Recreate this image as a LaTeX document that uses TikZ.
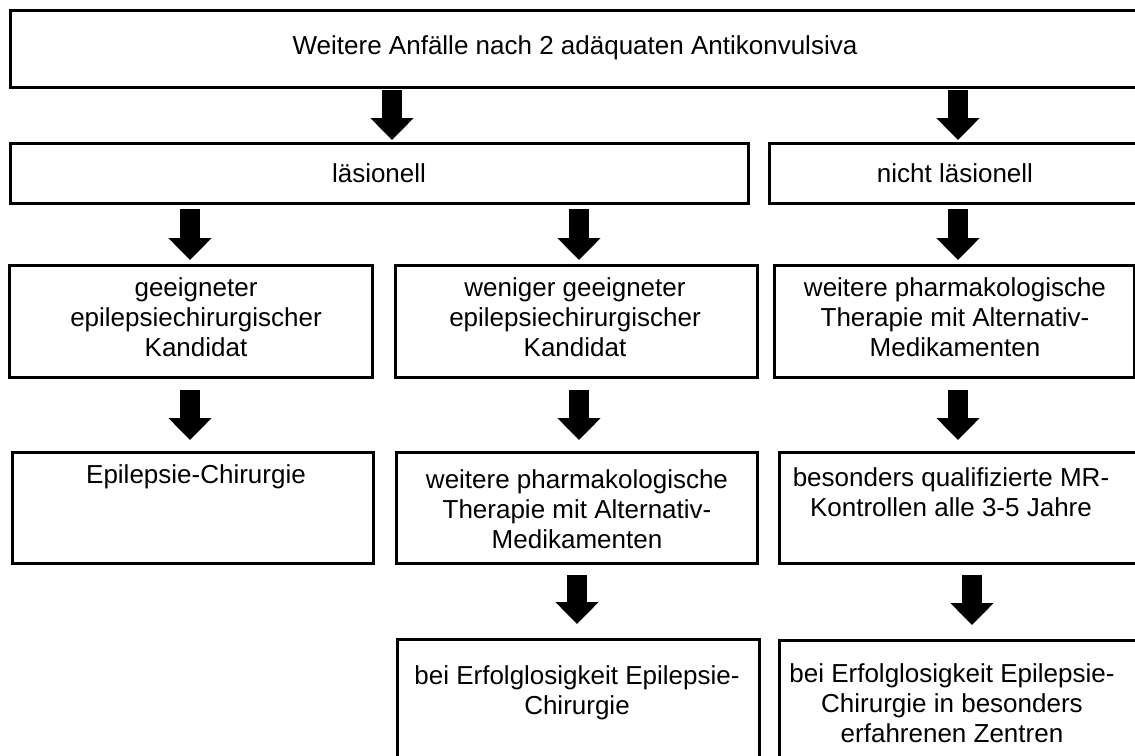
\documentclass[tikz,border=0pt]{standalone}
\usepackage{fontspec}
\setmainfont{Liberation Sans}
\usetikzlibrary{arrows.meta}
\tikzset{
  box/.style={draw=black, line width=3pt, fill=white, inner sep=0pt, outer sep=0pt},
  txt/.style={align=center, inner sep=0pt, font=\fontsize{26}{30}\selectfont},
  bigarrow/.style={draw=black, line width=20pt, -{Triangle[width=42pt,length=22pt]}}
}
\begin{document}
\begin{tikzpicture}[x=1pt,y=-1pt]
\useasboundingbox (0,0) rectangle (1135,755);
\clip (0,0) rectangle (1135,755);
\fill[white] (0,0) rectangle (1135,755);
% boxes
\node[box, minimum width=1135pt, minimum height=77pt] (top) at (577.5,48.5) {};
\node[box, minimum width=738pt, minimum height=60pt] (les) at (379,173) {};
\node[box, minimum width=376pt, minimum height=60pt] (nles) at (957,173) {};
\node[box, minimum width=363pt, minimum height=112pt] (r3a) at (190.5,321) {};
\node[box, minimum width=362pt, minimum height=112pt] (r3b) at (576,321) {};
\node[box, minimum width=360pt, minimum height=112pt] (r3c) at (954,321) {};
\node[box, minimum width=361pt, minimum height=111pt] (r4a) at (192.5,507.5) {};
\node[box, minimum width=361pt, minimum height=111pt] (r4b) at (576.5,507.5) {};
\node[box, minimum width=366pt, minimum height=111pt] (r4c) at (962,507.5) {};
\node[box, minimum width=362pt, minimum height=131pt] (r5b) at (578,704.5) {};
\node[box, minimum width=366pt, minimum height=130pt] (r5c) at (962,705) {};
% texts
\node[txt] (top-t) at (575,48) {Weitere Anfälle nach 2 adäquaten Antikonvulsiva};
\node[txt] (les-t) at (379,173) {läsionell};
\node[txt] (nles-t) at (955,173) {nicht läsionell};
\node[txt] (r3a-t) at (196,317) {geeigneter\\epilepsiechirurgischer\\Kandidat};
\node[txt] (r3b-t) at (575,317) {weniger geeigneter\\epilepsiechirurgischer\\Kandidat};
\node[txt] (r3c-t) at (955,317) {weitere pharmakologische\\Therapie mit Alternativ-\\Medikamenten};
\node[txt] (r4a-t) at (196,477) {Epilepsie-Chirurgie};
\node[txt] (r4b-t) at (577,509) {weitere pharmakologische\\Therapie mit Alternativ-\\Medikamenten};
\node[txt] (r4c-t) at (951,492) {besonders qualifizierte MR-\\Kontrollen alle 3-5 Jahre};
\node[txt] (r5b-t) at (577,693) {bei Erfolglosigkeit Epilepsie-\\Chirurgie};
\node[txt] (r5c-t) at (952,703) {bei Erfolglosigkeit Epilepsie-\\Chirurgie in besonders\\erfahrenen Zentren};
% arrow columns
\coordinate (ca1) at (392,0);
\coordinate (ca2) at (958,0);
\coordinate (cb1) at (190,0);
\coordinate (cb2) at (579,0);
\coordinate (cb3) at (958,0);
\coordinate (cd2) at (577,0);
\coordinate (cd3) at (972,0);
% arrows
\draw[bigarrow, shorten <=3pt, shorten >=3pt] (top.south -| ca1) -- (les.north -| ca1);
\draw[bigarrow, shorten <=3pt, shorten >=3pt] (top.south -| ca2) -- (nles.north -| ca2);
\draw[bigarrow, shorten <=6pt, shorten >=5pt] (les.south -| cb1) -- (r3a.north -| cb1);
\draw[bigarrow, shorten <=6pt, shorten >=5pt] (les.south -| cb2) -- (r3b.north -| cb2);
\draw[bigarrow, shorten <=6pt, shorten >=5pt] (nles.south -| cb3) -- (r3c.north -| cb3);
\draw[bigarrow, shorten <=13pt, shorten >=12pt] (r3a.south -| cb1) -- (r4a.north -| cb1);
\draw[bigarrow, shorten <=13pt, shorten >=12pt] (r3b.south -| cb2) -- (r4b.north -| cb2);
\draw[bigarrow, shorten <=13pt, shorten >=12pt] (r3c.south -| cb3) -- (r4c.north -| cb3);
\draw[bigarrow, shorten <=12pt, shorten >=15pt] (r4b.south -| cd2) -- (r5b.north -| cd2);
\draw[bigarrow, shorten <=12pt, shorten >=15pt] (r4c.south -| cd3) -- (r5c.north -| cd3);
\end{tikzpicture}
\end{document}
